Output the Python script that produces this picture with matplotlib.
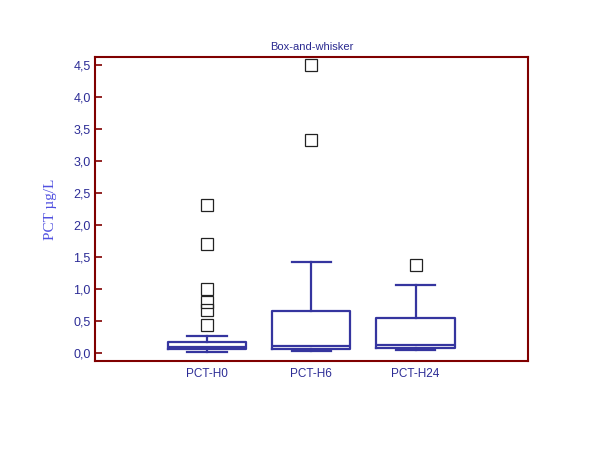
import matplotlib
matplotlib.use('Agg')
import matplotlib.pyplot as plt
from matplotlib.ticker import FuncFormatter, MultipleLocator

# box statistics (PCT, µg/L)
groups = ['PCT-H0', 'PCT-H6', 'PCT-H24']
whislo = [0.02, 0.03, 0.04]
q1 = [0.06, 0.06, 0.07]
med = [0.09, 0.11, 0.125]
q3 = [0.17, 0.65, 0.54]
whishi = [0.27, 1.42, 1.06]
fliers = [[2.31, 1.70, 0.99, 0.80, 0.67, 0.44],
          [4.50, 3.33],
          [1.375]]

navy = '#35359f'
frame = '#800000'

stats = []
for i in range(len(groups)):
    stats.append(dict(label=groups[i], whislo=whislo[i], q1=q1[i], med=med[i],
                      q3=q3[i], whishi=whishi[i], fliers=fliers[i]))

fig = plt.figure(figsize=(6, 4.5), dpi=100)
ax = fig.add_axes([0.158, 0.197, 0.722, 0.677])

line = dict(color=navy, linewidth=1.6)
ax.bxp(stats, positions=[1, 2, 3], widths=0.75, capwidths=0.38,
       boxprops=line, whiskerprops=line, capprops=line, medianprops=line,
       flierprops=dict(marker='s', markersize=8, markerfacecolor='none',
                       markeredgecolor='#222222', markeredgewidth=0.9))

ax.set_xlim(-0.08, 4.08)
ax.set_ylim(-0.133, 4.625)
ax.yaxis.set_major_locator(MultipleLocator(0.5))
ax.yaxis.set_major_formatter(FuncFormatter(lambda v, p: ('%.1f' % v).replace('.', ',')))

for s in ax.spines.values():
    s.set_color(frame)
    s.set_linewidth(1.5)

ax.tick_params(axis='y', direction='in', length=5, width=1.2, color=frame,
               labelcolor='#2c2c96', labelsize=9, pad=3)
ax.tick_params(axis='x', length=0, labelcolor='#2c2c96', labelsize=8.5, pad=5)
for lab in ax.get_xticklabels() + ax.get_yticklabels():
    lab.set_family('Liberation Sans')

ax.set_ylabel('PCT µg/L', family='Liberation Serif', fontsize=11,
              color='#5050e0', labelpad=12)
ax.set_title('Box-and-whisker', family='Liberation Sans', fontsize=8,
             color='#2a2a90', pad=5)

fig.savefig('out.png', dpi=100)
